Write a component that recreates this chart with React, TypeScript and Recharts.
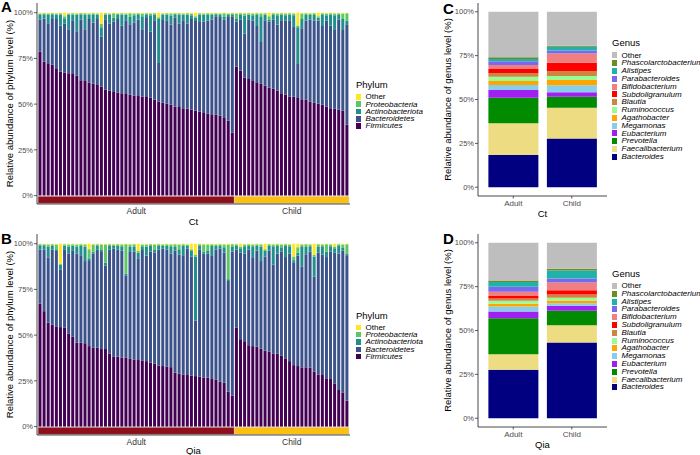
import { BarChart, Bar, XAxis, YAxis, Legend, ReferenceArea } from 'recharts';

const FONT = '"Liberation Sans", Arial, Helvetica, sans-serif';
const INK = '#1a1a1a';
const TICK_INK = '#4d4d4d';

// stacking order, bottom to top
const phyla = ['Firmicutes', 'Bacteroidetes', 'Actinobacteriota', 'Proteobacteria', 'Other'];
const phylumColors = ['#440154', '#3b528b', '#21908c', '#5dc863', '#fde725'];

const groups = ['Adult', 'Child'];
const groupColors = ['#8e0f1c', '#fcc010'];

const genera = [
  'Bacteroides', 'Faecalibacterium', 'Prevotella', 'Eubacterium', 'Megamonas', 'Agathobacter', 'Ruminococcus',
  'Blautia', 'Subdoligranulum', 'Bifidobacterium', 'Parabacteroides', 'Alistipes', 'Phascolarctobacterium', 'Other',
];
const genusColors = [
  '#000080', '#eedc82', '#008b00', '#a020f0', '#87ceeb', '#ffa500', '#98fb98',
  '#cd853f', '#ff0000', '#f08080', '#7b68ee', '#20b2aa', '#6b8e23', '#bebebe',
];

// ---- Ct, per sample relative abundance (%) ----
const ctAdultFirmicutes = [78.7, 73.3, 72.4, 71.5, 69.6, 67.8, 67.3, 66.9, 66.5, 65.6, 63.1, 62.7, 61.8, 61.1, 60.5, 59.6, 57.8, 57.3, 56.7, 56.4, 56.0, 55.5, 55.1, 54.7, 54.5, 54.2, 53.9, 53.5, 52.4, 51.5, 50.9, 50.2, 49.6, 48.7, 48.4, 47.8, 47.5, 46.9, 46.4, 46.0, 45.2, 44.7, 44.5, 44.2, 43.6, 42.4, 40.9, 34.5];
const ctAdultBacteroidetes = [17.5, 23.4, 21.8, 25.1, 26.9, 25.1, 26.7, 24.1, 29.4, 24.3, 33.1, 28.2, 34.7, 33.6, 36.0, 27.4, 38.6, 36.6, 38.5, 40.2, 36.9, 40.4, 38.6, 39.9, 41.7, 36.8, 43.2, 36.1, 43.5, 21.0, 45.1, 45.7, 43.9, 48.5, 45.5, 48.1, 46.4, 49.7, 49.0, 48.9, 49.8, 51.0, 51.8, 53.9, 54.1, 53.8, 56.8, 63.6];
const ctAdultActino = [2.5, 2.5, 4.5, 2.5, 2.5, 6, 3, 8, 3, 9, 3, 8, 2.5, 4, 2.5, 5, 2.5, 5, 2, 2.5, 6, 3, 4, 4, 3, 7, 2, 9, 3, 24, 3, 3, 5, 2, 5, 3, 5, 2, 2, 4, 4, 3, 2.5, 1, 1, 1.5, 1, 1];
const ctAdultProteo = [0.8, 0.5, 0.8, 0.6, 0.5, 0.8, 1, 0.6, 0.8, 0.6, 0.5, 0.8, 0.5, 1, 0.6, 2, 0.8, 0.6, 2.5, 0.5, 0.8, 0.6, 2, 1, 0.5, 1.5, 0.6, 1, 0.8, 1, 0.6, 0.8, 1, 0.5, 0.8, 0.6, 0.8, 1, 0.6, 0.8, 0.5, 1, 0.8, 0.6, 0.8, 2, 0.8, 0.6];
const ctAdultOther = [0.5, 0.3, 0.5, 0.3, 0.5, 0.3, 2, 0.4, 0.3, 0.5, 0.3, 0.3, 0.5, 0.3, 0.4, 6, 0.3, 0.5, 0.3, 0.4, 0.3, 0.5, 0.3, 0.4, 0.3, 0.5, 0.3, 0.4, 0.3, 2.5, 0.4, 0.3, 0.5, 0.3, 0.3, 0.5, 0.3, 0.4, 2, 0.3, 0.5, 0.3, 0.4, 0.3, 0.5, 0.3, 0.5, 0.3];

const ctChildFirmicutes = [70.5, 68.4, 64.5, 63.8, 62.7, 62.0, 61.1, 60.2, 59.1, 58.4, 57.3, 56.0, 55.1, 54.2, 54.0, 53.3, 52.7, 52.4, 51.5, 50.9, 50.2, 49.6, 48.7, 47.8, 47.5, 46.9, 46.4, 38.7];
const ctChildBacteroidetes = [24.6, 27.8, 24.0, 32.6, 32.9, 30.7, 22.9, 35.7, 35.9, 37.8, 36.3, 39.9, 40.5, 41.7, 38.6, 18.7, 38.8, 43.3, 44.8, 44.8, 45.5, 43.1, 46.9, 45.1, 43.1, 49.3, 44.1, 55.0];
const ctChildActino = [1.5, 2.5, 10, 2.5, 3, 6, 14, 3, 1, 2.5, 5, 3, 3, 3, 6, 20, 5, 3, 2.5, 3, 1.5, 6, 3, 6, 8, 2.5, 6, 2];
const ctChildProteo = [3, 1, 1, 0.8, 1, 1, 1.5, 0.8, 2, 1, 1, 0.8, 1, 0.8, 1, 1, 3, 1, 0.8, 1, 0.8, 1, 1, 0.8, 1, 1, 3, 4];
const ctChildOther = [0.4, 0.3, 0.5, 0.3, 0.4, 0.3, 0.5, 0.3, 2, 0.3, 0.4, 0.3, 0.4, 0.3, 0.4, 7, 0.5, 0.3, 0.4, 0.3, 2, 0.3, 0.4, 0.3, 0.4, 0.3, 0.5, 0.3];

// ---- Qia, per sample relative abundance (%) ----
const qiaAdultFirmicutes = [67.3, 63.1, 56.9, 55.8, 54.5, 54.4, 54.0, 50.9, 49.1, 46.0, 45.8, 45.6, 44.0, 43.3, 43.1, 42.4, 42.4, 40.0, 38.4, 38.2, 37.8, 37.8, 37.3, 36.7, 36.4, 36.2, 35.8, 34.9, 34.5, 33.3, 33.1, 32.7, 32.5, 29.5, 29.0, 28.5, 28.2, 27.8, 27.6, 27.4, 26.9, 26.7, 26.0, 25.8, 24.5, 24.0, 19.1, 16.9];
const qiaAdultBacteroidetes = [29.4, 33.6, 35.6, 40.9, 41.5, 31.6, 42.9, 43.6, 47.3, 48.5, 47.9, 44.9, 47.0, 51.3, 53.6, 53.1, 45.7, 56.7, 58.8, 58.5, 58.3, 44.9, 58.2, 59.0, 55.6, 60.4, 57.7, 60.8, 60.6, 63.4, 64.1, 64.0, 62.1, 66.7, 65.0, 65.2, 69.1, 65.2, 30.4, 69.3, 67.7, 67.8, 67.7, 71.0, 72.7, 71.0, 60.5, 78.8];
const qiaAdultActino = [2.5, 2.5, 6, 2, 1, 2.5, 2, 4, 2.5, 4, 5, 8, 1, 1, 2, 1, 1.5, 2, 1.5, 2, 2.5, 1, 3, 2.5, 3, 2, 5, 3, 1.5, 2, 1.5, 2, 4, 2, 3, 5, 1.5, 3, 35, 2, 1, 1.5, 5, 2, 1.5, 3, 1, 2.5];
const qiaAdultProteo = [0.5, 0.5, 1, 1, 2.5, 0.5, 0.8, 1, 0.8, 1, 1, 1, 5, 4, 1, 3, 10, 1, 0.8, 1, 1, 16, 1, 1.5, 1, 1, 1, 1, 3, 1, 0.8, 1, 1, 1.5, 2.5, 1, 0.8, 1, 1, 1, 4, 3.5, 1, 0.8, 1, 1.5, 19, 1.5];
const qiaAdultOther = [0.3, 0.3, 0.5, 0.3, 0.5, 11, 0.3, 0.5, 0.3, 0.5, 0.3, 0.5, 3, 0.4, 0.3, 0.5, 0.4, 0.3, 0.5, 0.3, 0.4, 0.3, 0.5, 0.3, 4, 0.4, 0.5, 0.3, 0.4, 0.3, 0.5, 0.3, 0.4, 0.3, 0.5, 0.3, 0.4, 3, 6, 0.3, 0.4, 0.5, 0.3, 0.4, 0.3, 0.5, 0.4, 0.3];

const qiaChildFirmicutes = [54.0, 47.8, 46.7, 44.5, 44.0, 43.6, 42.7, 41.5, 40.9, 39.8, 39.8, 38.7, 37.3, 35.8, 33.6, 33.1, 32.4, 32.4, 32.2, 30.0, 28.5, 28.2, 26.4, 26.0, 23.6, 20.0, 18.7, 14.2];
const qiaChildBacteroidetes = [42.7, 47.2, 47.9, 52.2, 48.6, 52.6, 47.8, 51.5, 55.3, 48.8, 54.9, 56.9, 55.4, 58.8, 55.9, 60.4, 55.2, 61.8, 63.4, 52.0, 66.7, 65.9, 66.3, 69.6, 71.4, 74.7, 77.4, 79.5];
const qiaChildActino = [2, 2.5, 4, 2, 6, 2.5, 8, 3, 2.5, 10, 4, 2.5, 6, 4, 1.5, 1.5, 11, 4, 3, 11, 3, 4.5, 3, 3, 2.5, 4, 1.5, 1];
const qiaChildProteo = [1, 1, 1, 1, 1, 1, 1, 1, 1, 1, 1, 1.5, 1, 1, 2, 3, 1, 1.5, 1, 1, 1.5, 1, 4, 1, 1, 1, 2, 5];
const qiaChildOther = [0.3, 1.5, 0.4, 0.3, 0.4, 0.3, 0.5, 3, 0.3, 0.4, 0.3, 0.4, 0.3, 0.4, 7, 2, 0.4, 0.3, 0.4, 6, 0.3, 0.4, 0.3, 0.4, 1.5, 0.3, 0.4, 0.3];

// ---- genus level, mean relative abundance (%), same order as `genera` ----
const ctAdultGenus = [18.3, 18.1, 14.6, 4.4, 2.9, 2.3, 2.3, 2.2, 2.3, 2.3, 2.1, 1.3, 1.0, 25.9];
const ctChildGenus = [27.8, 17.5, 6.3, 2.5, 4.0, 3.0, 2.3, 2.9, 4.6, 5.3, 1.7, 2.1, 0.6, 19.4];
const qiaAdultGenus = [27.6, 8.9, 20.5, 3.8, 2.9, 1.5, 1.7, 1.4, 1.3, 2.5, 2.8, 2.7, 0.9, 21.5];
const qiaChildGenus = [43.2, 9.8, 8.2, 2.9, 1.5, 1.5, 1.5, 1.9, 2.5, 4.4, 2.3, 4.5, 1.0, 14.8];

type Row = Record<string, string | number>;

function sampleRows(tag: string, group: string, series: number[][]): Row[] {
  return series[0].map((_, i) => {
    const row: Row = { id: `${tag}-${group}-${i + 1}`, group };
    phyla.forEach((name, k) => {
      row[name] = series[k][i];
    });
    return row;
  });
}

function genusRow(group: string, values: number[]): Row {
  const row: Row = { group };
  genera.forEach((name, k) => {
    row[name] = values[k];
  });
  return row;
}

const ctRows = [
  ...sampleRows('ct', 'Adult', [ctAdultFirmicutes, ctAdultBacteroidetes, ctAdultActino, ctAdultProteo, ctAdultOther]),
  ...sampleRows('ct', 'Child', [ctChildFirmicutes, ctChildBacteroidetes, ctChildActino, ctChildProteo, ctChildOther]),
];
const qiaRows = [
  ...sampleRows('qia', 'Adult', [qiaAdultFirmicutes, qiaAdultBacteroidetes, qiaAdultActino, qiaAdultProteo, qiaAdultOther]),
  ...sampleRows('qia', 'Child', [qiaChildFirmicutes, qiaChildBacteroidetes, qiaChildActino, qiaChildProteo, qiaChildOther]),
];
const ctGenusRows = [genusRow('Adult', ctAdultGenus), genusRow('Child', ctChildGenus)];
const qiaGenusRows = [genusRow('Adult', qiaAdultGenus), genusRow('Child', qiaChildGenus)];

function KeyList({ title, names, colors, rowHeight, swatchH, gap }: {
  title: string; names: string[]; colors: string[]; rowHeight: number; swatchH: number; gap: number;
}) {
  const items = names.map((n, i) => ({ n, c: colors[i] })).reverse();
  return (
    <div style={{ fontFamily: FONT, color: '#000' }}>
      <div style={{ fontSize: 9.5, height: 12, lineHeight: '12px', marginBottom: gap }}>{title}</div>
      {items.map(({ n, c }) => (
        <div key={n} style={{ display: 'flex', alignItems: 'center', height: rowHeight }}>
          <span style={{ width: 4.5, height: swatchH, background: c, marginRight: 5, flex: 'none' }} />
          <span style={{ fontSize: 8, lineHeight: `${rowHeight}px`, whiteSpace: 'nowrap', fontStyle: n === 'Other' ? 'normal' : 'italic' }}>
            {n}
          </span>
        </div>
      ))}
    </div>
  );
}

const pct = (v: number) => `${v}%`;

function PhylumPanel({ top, rows, title, titleOffset }: { top: number; rows: Row[]; title: string; titleOffset: number }) {
  return (
    <div style={{ position: 'absolute', left: 0, top, width: 460, height: 227 }}>
      <BarChart width={460} height={227} data={rows} barCategoryGap="12%"
        margin={{ top: 3, right: 110, bottom: 0, left: 0 }}>
        <XAxis dataKey="id" tick={false} tickLine={false} height={23} padding={{ left: 1, right: 1 }}
          axisLine={{ stroke: INK, strokeWidth: 0.8 }}
          label={{ value: title, position: 'insideBottom', offset: titleOffset, fontSize: 9.5, fill: '#000' }} />
        <YAxis width={37} domain={[-4.6, 105.3]} ticks={[0, 25, 50, 75, 100]} tickFormatter={pct}
          allowDataOverflow
          tick={{ fontSize: 7.5, fill: TICK_INK }} tickSize={3} tickMargin={1}
          tickLine={{ stroke: '#333', strokeWidth: 0.8 }} axisLine={{ stroke: INK, strokeWidth: 0.8 }}
          label={{ value: 'Relative abundance of phylum level (%)', angle: -90, position: 'insideLeft', offset: 9.5,
            fontSize: 9.5, fill: '#000', style: { textAnchor: 'middle' } }} />
        {phyla.map((p, k) => (
          <Bar key={p} dataKey={p} stackId="phylum" fill={phylumColors[k]} isAnimationActive={false} />
        ))}
        {groups.map((g, k) => {
          const members = rows.filter((r) => r.group === g);
          return (
            <ReferenceArea key={g} x1={members[0].id} x2={members[members.length - 1].id} y1={-4.3} y2={-0.3}
              fill={groupColors[k]} fillOpacity={1} stroke="#d9d9d9" strokeWidth={0.6} ifOverflow="visible"
              label={{ value: g, position: 'bottom', offset: 4.5, fontSize: 8.5, fill: '#333' }} />
          );
        })}
        <Legend layout="vertical" align="center" verticalAlign="middle" wrapperStyle={{ left: 356, top: 79 }}
          content={() => <KeyList title="Phylum" names={phyla} colors={phylumColors} rowHeight={7.3} swatchH={5.5} gap={2.3} />} />
      </BarChart>
    </div>
  );
}

function GenusPanel({ top, rows, title }: { top: number; rows: Row[]; title: string }) {
  return (
    <div style={{ position: 'absolute', left: 440, top, width: 260, height: 219 }}>
      <BarChart width={260} height={219} data={rows} barCategoryGap="7.5%"
        margin={{ top: 3, right: 93, bottom: 0, left: 0 }}>
        <XAxis dataKey="group" height={23} padding={{ left: 6, right: 6 }}
          tick={{ fontSize: 8, fill: TICK_INK }} tickSize={2.5} tickMargin={1.5}
          tickLine={{ stroke: '#333', strokeWidth: 0.8 }} axisLine={{ stroke: INK, strokeWidth: 0.8 }}
          label={{ value: title, position: 'insideBottom', offset: 2, fontSize: 9.5, fill: '#000' }} />
        <YAxis width={38} domain={[-5, 105]} ticks={[0, 25, 50, 75, 100]} tickFormatter={pct}
          tick={{ fontSize: 7.5, fill: TICK_INK }} tickSize={3} tickMargin={1}
          tickLine={{ stroke: '#333', strokeWidth: 0.8 }} axisLine={{ stroke: INK, strokeWidth: 0.8 }}
          label={{ value: 'Relative abundance of genus level (%)', angle: -90, position: 'insideLeft', offset: 8,
            fontSize: 9.5, fill: '#000', style: { textAnchor: 'middle' } }} />
        {genera.map((g, k) => (
          <Bar key={g} dataKey={g} stackId="genus" fill={genusColors[k]} isAnimationActive={false} />
        ))}
        <Legend layout="vertical" align="center" verticalAlign="middle" wrapperStyle={{ left: 172, top: 37 }}
          content={() => <KeyList title="Genus" names={genera} colors={genusColors} rowHeight={7.8} swatchH={6} gap={2.6} />} />
      </BarChart>
    </div>
  );
}

function PanelLetter({ letter, left, top }: { letter: string; left: number; top: number }) {
  return (
    <div style={{ position: 'absolute', left, top, fontSize: 15, fontWeight: 700, lineHeight: 1, fontFamily: FONT, color: '#000' }}>
      {letter}
    </div>
  );
}

export default function App() {
  return (
    <div style={{ position: 'absolute', left: 0, top: 0, width: 700, height: 455, background: '#fff', fontFamily: FONT, overflow: 'hidden' }}>
      <PhylumPanel top={0} rows={ctRows} title="Ct" titleOffset={2.5} />
      <PhylumPanel top={230.5} rows={qiaRows} title="Qia" titleOffset={4} />
      <GenusPanel top={0} rows={ctGenusRows} title="Ct" />
      <GenusPanel top={230.5} rows={qiaGenusRows} title="Qia" />
      <PanelLetter letter="A" left={1} top={-0.7} />
      <PanelLetter letter="B" left={1} top={230.6} />
      <PanelLetter letter="C" left={443} top={0.8} />
      <PanelLetter letter="D" left={443} top={231.3} />
    </div>
  );
}
